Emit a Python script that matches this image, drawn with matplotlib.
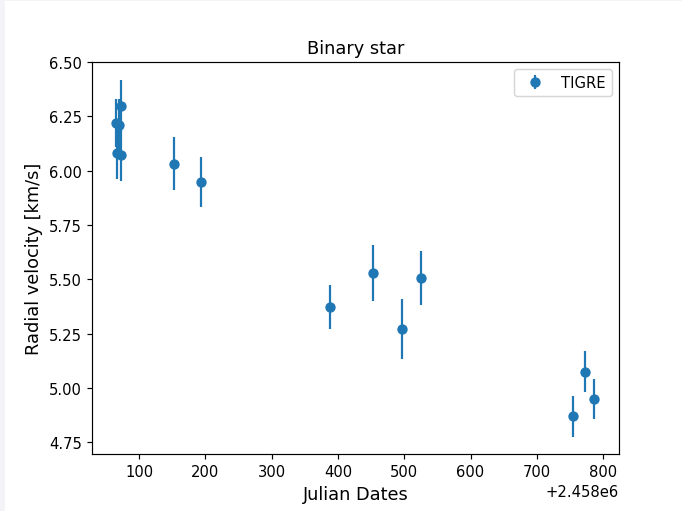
import matplotlib
matplotlib.use("Agg")
import matplotlib.pyplot as plt
from matplotlib.patches import Rectangle
import numpy as np

# Radial velocity measurements (TIGRE), JD offset 2458000
jd_offset = 2458000
jd = [65.5, 67, 70, 72.5, 73.5,
      152, 193, 388, 453, 496, 526, 755, 773, 787]
rv = [6.218, 6.08, 6.21, 6.296, 6.073,
      6.031, 5.946, 5.373, 5.530, 5.271, 5.505, 4.870, 5.075, 4.949]
rv_err = [0.11, 0.12, 0.12, 0.12, 0.12,
          0.122, 0.115, 0.10, 0.128, 0.137, 0.124, 0.094, 0.094, 0.092]

W, H = 682, 512
dpi = 106.25
fig = plt.figure(figsize=(W / dpi, H / dpi), dpi=dpi)

# thin page-coloured frame along left and top edges
fig.patches.append(Rectangle((0, 0), 5 / W, 1, transform=fig.transFigure,
                             facecolor="#f3f3f8", edgecolor="none", zorder=-1))
fig.patches.append(Rectangle((0, 1 - 2 / H), 1, 2 / H, transform=fig.transFigure,
                             facecolor="#f3f3f8", edgecolor="none", zorder=-1))

left, right, top, bottom = 92, 619, 63, 455
ax = fig.add_axes([left / W, (H - bottom) / H, (right - left) / W, (bottom - top) / H])

x = np.array(jd) + jd_offset
ax.errorbar(x, rv, yerr=rv_err, fmt="o", color="#1f77b4", label="TIGRE")

ax.set_xlim(jd_offset + 29, jd_offset + 824)
ax.set_ylim(4.696, 6.5)
ax.set_yticks([4.75, 5.0, 5.25, 5.5, 5.75, 6.0, 6.25, 6.5])
ax.yaxis.set_major_formatter(matplotlib.ticker.FormatStrFormatter("%.2f"))

ax.set_title("Binary star", fontsize=12)
ax.set_xlabel("Julian Dates", fontsize=12)
ax.set_ylabel("Radial velocity [km/s]", fontsize=12)
ax.legend(loc="upper right")

fig.savefig("out.png", dpi=dpi)
